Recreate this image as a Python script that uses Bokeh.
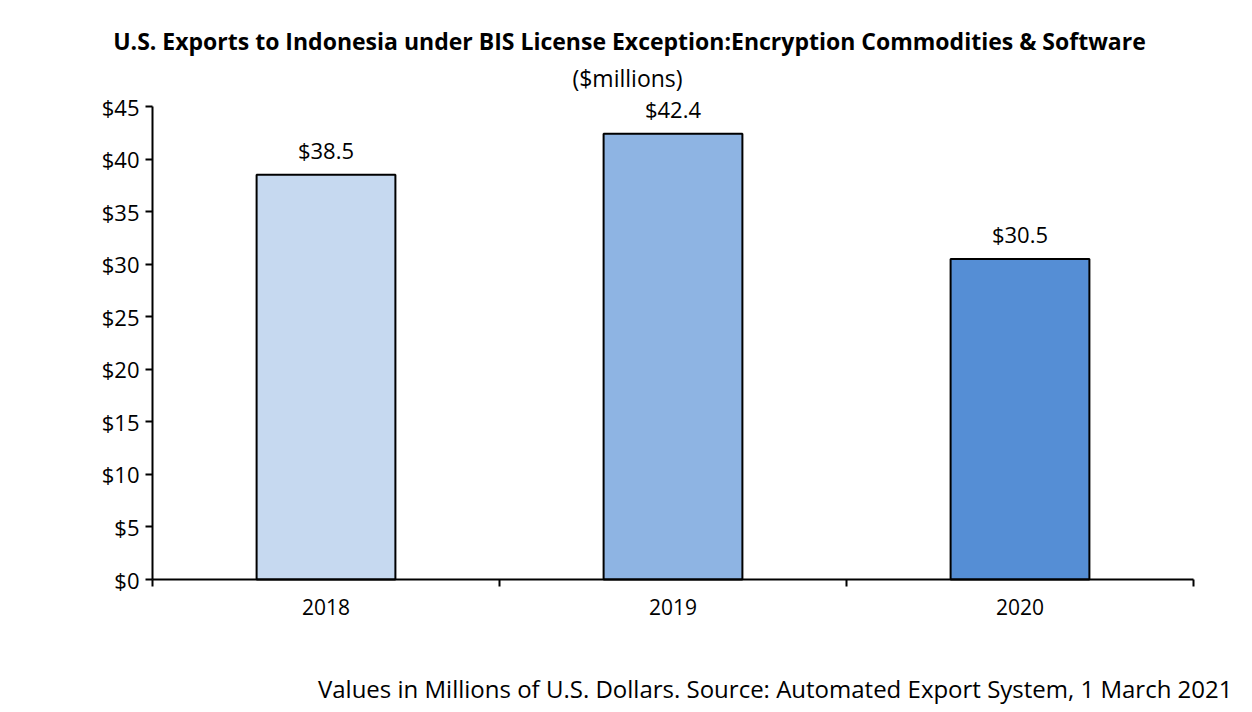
from bokeh.plotting import figure
from bokeh.models import (ColumnDataSource, FixedTicker, NumeralTickFormatter,
                          LabelSet, Label, Range1d, LinearAxis)
from bokeh.core.properties import value
from bokeh.embed import file_html
from bokeh.resources import INLINE

years = ["2018", "2019", "2020"]
values = [38.5, 42.4, 30.5]
colors = ["#C6D9F0", "#8EB4E3", "#558ED5"]
y_max = 45
title_text = "U.S. Exports to Indonesia under BIS License Exception:Encryption Commodities & Software"
subtitle_text = "($millions)"
footnote_text = "Values in Millions of U.S. Dollars. Source: Automated Export System, 1 March 2021"

FONT = "Open Sans"
W, H = 1236, 708
# where the axes sit on the canvas (pixels)
AX_L, AX_R, AX_T, AX_B = 152, 1193, 106, 579
n = len(years)
sx = (AX_R - AX_L) / n          # px per category
sy = (AX_B - AX_T) / y_max      # px per unit

xs = [i + 0.5 for i in range(n)]
src = ColumnDataSource(dict(x=xs, top=values, color=colors,
                            label=[f"${v:.1f}" for v in values]))

p = figure(width=W, height=H, output_backend="svg", toolbar_location=None,
           x_range=Range1d(-AX_L / sx, n + (W - AX_R) / sx),
           y_range=Range1d(-(H - AX_B) / sy, AX_B / sy),
           x_axis_location=None, y_axis_location=None,
           min_border=0)
p.outline_line_color = None
p.xgrid.visible = False
p.ygrid.visible = False
p.background_fill_color = "white"

p.vbar(x="x", top="top", width=0.4, bottom=0, source=src,
       fill_color="color", line_color="black", line_width=2)

labels = LabelSet(x="x", y="top", text="label", source=src, y_offset=10,
                  text_align="center", text_baseline="bottom",
                  text_font=value(FONT), text_font_size="22px",
                  text_color="#000000")
p.add_layout(labels)

# x axis
xa = LinearAxis(fixed_location=0, bounds=(0, n))
xa.ticker = FixedTicker(ticks=xs, minor_ticks=list(range(n + 1)))
xa.major_label_overrides = {x: y for x, y in zip(xs, years)}
xa.major_tick_out = 0
xa.major_tick_in = 0
xa.minor_tick_out = 7
xa.minor_tick_in = 0
xa.minor_tick_line_color = "black"
xa.minor_tick_line_width = 2
xa.axis_line_width = 2
xa.axis_line_color = "black"
xa.major_label_text_font = FONT
xa.major_label_text_font_size = "21px"
xa.major_label_text_color = "#000000"
xa.major_label_standoff = 12
p.add_layout(xa, "below")

# y axis
ya = LinearAxis(fixed_location=0, bounds=(0, y_max))
ya.ticker = FixedTicker(ticks=list(range(0, y_max + 1, 5)))
ya.formatter = NumeralTickFormatter(format="$0")
ya.major_tick_out = 7
ya.major_tick_in = 0
ya.minor_tick_out = 0
ya.minor_tick_in = 0
ya.major_tick_line_width = 2
ya.axis_line_width = 2
ya.axis_line_color = "black"
ya.major_label_text_font = FONT
ya.major_label_text_font_size = "22px"
ya.major_label_text_color = "#000000"
ya.major_label_standoff = 6
p.add_layout(ya, "left")

def canvas_label(px, py, text, align, **kw):
    p.add_layout(Label(x=px, y=H - py, x_units="screen", y_units="screen",
                       text=text, text_align=align, text_baseline="middle",
                       text_font=FONT, text_color="#000000", **kw))

canvas_label(629, 40, title_text, "center", text_font_style="bold",
             text_font_size="23px")
canvas_label(627, 77, subtitle_text, "center", text_font_size="23px")
canvas_label(1232, 688, footnote_text, "right", text_font_size="24px")

open("out.html", "w").write(file_html(p, INLINE))
